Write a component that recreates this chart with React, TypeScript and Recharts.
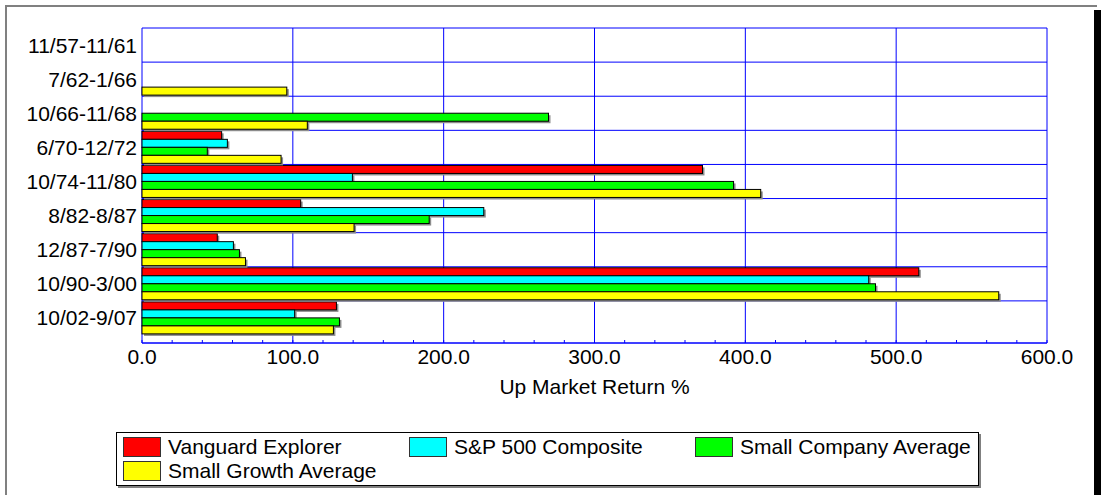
import { BarChart, Bar, XAxis, YAxis, CartesianGrid } from 'recharts';

const CATEGORIES = [
  '11/57-11/61',
  '7/62-1/66',
  '10/66-11/68',
  '6/70-12/72',
  '10/74-11/80',
  '8/82-8/87',
  '12/87-7/90',
  '10/90-3/00',
  '10/02-9/07',
];

const EXPLORER = [null, null, null, 52.8, 371.6, 105.2, 49.9, 515.0, 128.9];
const SP500 = [null, null, null, 56.6, 139.5, 226.6, 60.6, 481.8, 101.2];
const SMALL_COMPANY = [null, null, 269.5, 43.3, 392.2, 190.4, 64.6, 486.3, 130.9];
const SMALL_GROWTH = [null, 96.0, 109.6, 92.2, 410.2, 140.6, 68.6, 568.0, 126.9];

const X_TICKS = [0, 20, 40, 60, 80, 100, 120, 140, 160, 180, 200, 220, 240, 260, 280, 300,
  320, 340, 360, 380, 400, 420, 440, 460, 480, 500, 520, 540, 560, 580, 600];
const GRID_X = [0, 100, 200, 300, 400, 500, 600];
// lines between the period bands (the last band has no line under it)
const BAND_EDGES = [0, 1, 2, 3, 4, 5, 6, 7, 8];

const SERIES = [
  { key: 'explorer', name: 'Vanguard Explorer', color: '#ff0000', values: EXPLORER },
  { key: 'sp500', name: 'S&P 500 Composite', color: '#00ffff', values: SP500 },
  { key: 'smallco', name: 'Small Company Average', color: '#00ff00', values: SMALL_COMPANY },
  { key: 'growth', name: 'Small Growth Average', color: '#ffff00', values: SMALL_GROWTH },
];

const data = CATEGORIES.map((period, i) => {
  const row: Record<string, string | number | null> = { period };
  SERIES.forEach(s => { row[s.key] = s.values[i]; });
  return row;
});

const FONT = '"Liberation Sans", Arial, Helvetica, sans-serif';
const BOTTOM_PAD = 8;

// bar with a grey drop shadow like the original
function ShadowBar(props: any) {
  const { x, y, width, height, fill } = props;
  if (!width || width <= 0) return null;
  return (
    <g>
      <rect x={x + 2} y={y + 2} width={width} height={height} fill="#8c8c8c" />
      <rect x={x} y={y} width={width} height={height} fill={fill} stroke="#000" strokeWidth={1} />
    </g>
  );
}

export default function App() {
  const bandH = (495 - 28 - 152 - BOTTOM_PAD) / CATEGORIES.length;
  return (
    <div style={{ position: 'absolute', left: 0, top: 0, width: 1104, height: 495, background: '#fff', fontFamily: FONT, overflow: 'hidden' }}>
      {/* frame */}
      <div style={{ position: 'absolute', left: 5, top: 5, width: 1090, height: 500, borderTop: '2px solid #808080', borderLeft: '2px solid #808080' }} />
      <div style={{ position: 'absolute', left: 1094, top: 10, width: 7, height: 490, background: '#000' }} />

      <div style={{ position: 'absolute', left: 0, top: 0 }}>
        <BarChart
          width={1104}
          height={495}
          data={data}
          layout="vertical"
          margin={{ top: 28, right: 57, bottom: 101, left: 7 }}
          barCategoryGap={1}
          barGap={0}
        >
          <CartesianGrid stroke="#0000ff" xAxisId="grid" yAxisId="grid" />
          <XAxis
            type="number"
            domain={[0, 600]}
            ticks={X_TICKS}
            interval={0}
            height={51}
            tickSize={-3}
            tickMargin={9}
            axisLine={{ stroke: '#0000ff' }}
            tickLine={{ stroke: '#0000ff' }}
            tick={{ fill: '#000', fontSize: 21 }}
            tickFormatter={(v: number) => (v % 100 === 0 ? v.toFixed(1) : '')}
            label={{ value: 'Up Market Return %', position: 'insideBottom', offset: 0, fill: '#000', fontSize: 21 }}
          />
          <XAxis xAxisId="grid" type="number" domain={[0, 600]} ticks={GRID_X} allowDataOverflow hide />
          <YAxis
            type="category"
            dataKey="period"
            width={135}
            axisLine={false}
            tickLine={false}
            tickSize={0}
            tickMargin={5}
            interval={0}
            padding={{ top: 0, bottom: BOTTOM_PAD }}
            tick={{ fill: '#000', fontSize: 21 }}
          />
          <YAxis
            yAxisId="grid"
            type="number"
            domain={[0, 8]}
            ticks={BAND_EDGES}
            allowDataOverflow
            reversed
            hide
            padding={{ top: 0, bottom: BOTTOM_PAD + bandH }}
          />
          {SERIES.map(s => (
            <Bar
              key={s.key}
              dataKey={s.key}
              name={s.name}
              fill={s.color}
              shape={ShadowBar}
              isAnimationActive={false}
            />
          ))}
        </BarChart>
      </div>

      {/* legend */}
      <div style={{ position: 'absolute', left: 116, top: 432, width: 861, height: 52, border: '1px solid #000', boxShadow: '2px 2px 0 #808080', background: '#fff' }}>
        {SERIES.map((s, i) => (
          <div
            key={s.key}
            style={{
              position: 'absolute',
              left: 6 + (i % 3) * 286,
              top: 4 + Math.floor(i / 3) * 24,
              height: 20,
              display: 'flex',
              alignItems: 'center',
              whiteSpace: 'nowrap',
            }}
          >
            <div style={{ width: 38, height: 20, boxSizing: 'border-box', background: s.color, border: '1px solid #333' }} />
            <span style={{ marginLeft: 7, fontSize: 21, color: '#000', lineHeight: '20px' }}>{s.name}</span>
          </div>
        ))}
      </div>
    </div>
  );
}
